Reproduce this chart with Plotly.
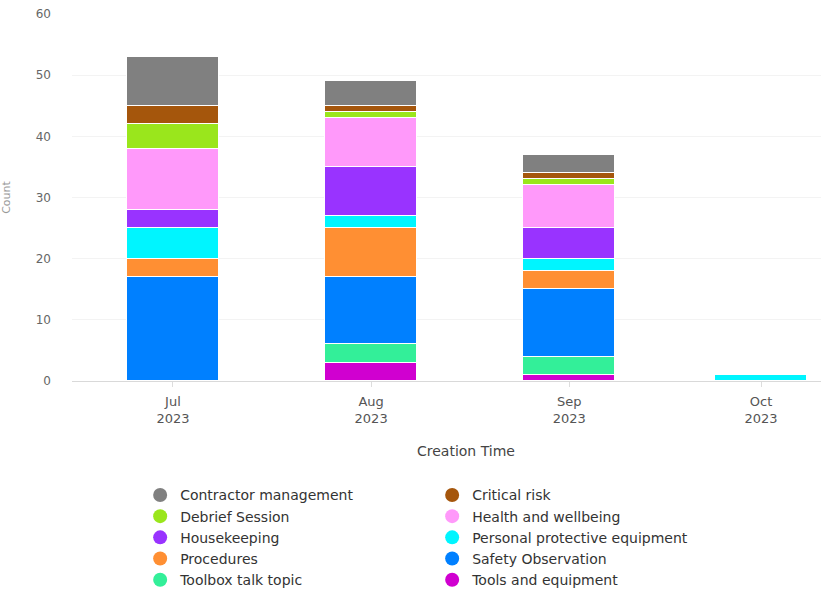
import plotly.graph_objects as go

# Months on the date axis (first day of each month)
months = ["2023-07-01", "2023-08-01", "2023-09-01", "2023-10-01"]
month_labels = ["Jul<br>2023", "Aug<br>2023", "Sep<br>2023", "Oct<br>2023"]

# Categories in legend order
categories = [
    "Contractor management", "Critical risk", "Debrief Session",
    "Health and wellbeing", "Housekeeping", "Personal protective equipment",
    "Procedures", "Safety Observation", "Toolbox talk topic", "Tools and equipment",
]

# Counts per month (Jul, Aug, Sep, Oct)
contractor_management = [8, 4, 3, 0]
critical_risk = [3, 1, 1, 0]
debrief_session = [4, 1, 1, 0]
health_and_wellbeing = [10, 8, 7, 0]
housekeeping = [3, 8, 5, 0]
personal_protective_equipment = [5, 2, 2, 1]
procedures = [3, 8, 3, 0]
safety_observation = [17, 11, 11, 0]
toolbox_talk_topic = [0, 3, 3, 0]
tools_and_equipment = [0, 3, 1, 0]

series = {
    "Contractor management": contractor_management,
    "Critical risk": critical_risk,
    "Debrief Session": debrief_session,
    "Health and wellbeing": health_and_wellbeing,
    "Housekeeping": housekeeping,
    "Personal protective equipment": personal_protective_equipment,
    "Procedures": procedures,
    "Safety Observation": safety_observation,
    "Toolbox talk topic": toolbox_talk_topic,
    "Tools and equipment": tools_and_equipment,
}

colors = {
    "Contractor management": "#808080",
    "Critical risk": "#a5560c",
    "Debrief Session": "#9ae61c",
    "Health and wellbeing": "#ff99fa",
    "Housekeeping": "#9933ff",
    "Personal protective equipment": "#00f5ff",
    "Procedures": "#ff8f33",
    "Safety Observation": "#0080ff",
    "Toolbox talk topic": "#33ef99",
    "Tools and equipment": "#d000d0",
}

FONT = "DejaVu Sans, Verdana, sans-serif"
BAR_WIDTH_MS = 14.4 * 86400000

fig = go.Figure()

# Stacked bars: last category sits at the bottom of the stack
for name in reversed(categories):
    fig.add_trace(go.Bar(
        x=months, y=series[name], name=name,
        width=[BAR_WIDTH_MS] * len(months),
        marker=dict(color=colors[name], line=dict(color="white", width=1)),
        showlegend=False,
    ))

# Legend entries drawn as round markers
for name in categories:
    fig.add_trace(go.Scatter(
        x=[None], y=[None], mode="markers", name=name,
        marker=dict(symbol="circle", size=14, color=colors[name]),
        showlegend=True,
    ))

fig.update_layout(
    width=821, height=592,
    margin=dict(l=72, r=0, t=14, b=211, autoexpand=False),
    barmode="stack",
    bargap=0,
    paper_bgcolor="white",
    plot_bgcolor="white",
    font=dict(family=FONT, size=12, color="#555555"),
    legend=dict(
        orientation="h",
        traceorder="normal",
        x=0.091, xanchor="left",
        y=-0.268, yanchor="top",
        entrywidth=247, entrywidthmode="pixels",
        font=dict(family=FONT, size=14, color="#333333"),
        itemsizing="trace",
        tracegroupgap=0,
    ),
    xaxis=dict(
        type="date",
        automargin=False,
        range=["2023-06-15 05:00", "2023-10-10 09:00"],
        tickmode="array",
        tickvals=months,
        ticktext=month_labels,
        tickfont=dict(size=13, color="#555555"),
        ticks="outside", ticklen=5, tickcolor="#dddddd",
        ticklabelstandoff=3,
        showline=True, linecolor="#d9d9d9", linewidth=1,
        showgrid=False, zeroline=False,
    ),
    yaxis=dict(
        range=[0, 60],
        automargin=False,
        tickvals=[0, 10, 20, 30, 40, 50, 60],
        tickfont=dict(size=12, color="#666666"),
        ticklabelstandoff=20,
        showgrid=True, gridcolor="#f3f3f3", gridwidth=1,
        zeroline=False, showline=False,
        title=dict(text="Count", font=dict(size=11, color="#999999"), standoff=26),
    ),
    annotations=[dict(
        text="Creation Time", xref="paper", yref="paper",
        x=0.526, y=-0.19, xanchor="center", yanchor="middle",
        showarrow=False, font=dict(family=FONT, size=14, color="#444444"),
    )],
)

fig.write_html("out.html")
